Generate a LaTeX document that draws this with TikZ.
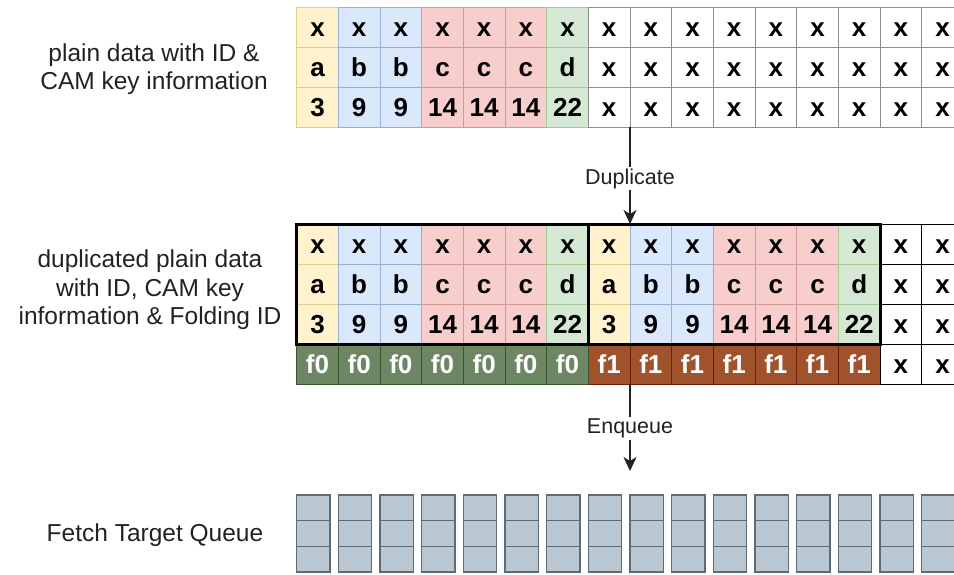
\documentclass[tikz,border=0pt]{standalone}
\usepackage{fontspec}
\setmainfont{Liberation Sans}
\usetikzlibrary{arrows.meta}

% fills and strokes of the cell groups
\definecolor{yelF}{HTML}{FFF2CC}\definecolor{yelD}{HTML}{D6B656}
\definecolor{bluF}{HTML}{DAE8FC}\definecolor{bluD}{HTML}{6C8EBF}
\definecolor{redF}{HTML}{F8CECC}\definecolor{redD}{HTML}{B85450}
\definecolor{grnF}{HTML}{D5E8D4}\definecolor{grnD}{HTML}{82B366}
\definecolor{fzF}{HTML}{6D8764}\definecolor{fzD}{HTML}{3A5431}
\definecolor{foF}{HTML}{A0522D}\definecolor{foD}{HTML}{6D1F00}
\definecolor{qF}{HTML}{BAC8D3}\definecolor{qD}{HTML}{5E6A74}
\definecolor{ink}{HTML}{222222}

\begin{document}
\begin{tikzpicture}[x=1pt,y=-1pt,
  cell/.style={draw, minimum width=41.67pt, minimum height=40pt, inner sep=0pt,
    outer sep=0pt, line width=0.8pt, text=black,
    font=\fontsize{26}{30}\selectfont\bfseries, text height=18.6pt, text depth=0pt},
  kyel/.style={fill=yelF, draw=yelD!70!white},
  kblu/.style={fill=bluF, draw=bluD!70!white},
  kred/.style={fill=redF, draw=redD!60!white},
  kgrn/.style={fill=grnF, draw=grnD!70!white},
  kwht/.style={fill=white, draw=black!45},
  kwhb/.style={fill=white, draw=black},
  kfz/.style={fill=fzF, draw=fzD, text=white},
  kfo/.style={fill=foF, draw=foD, text=white},
  qcell/.style={draw=qD, fill=qF, line width=1.4pt, minimum width=33.3pt,
    minimum height=25.67pt, inner sep=0pt, outer sep=0pt},
  lbl/.style={text=ink, align=center, font=\fontsize{24.5}{28.5}\selectfont},
  albl/.style={text=ink, fill=white, inner sep=1.5pt, font=\fontsize{21.5}{24}\selectfont},
  flow/.style={draw=ink, line width=1.8pt, -{Stealth[length=14pt, width=13pt, inset=4pt]}},
  frame/.style={draw=black, line width=3pt}]

\useasboundingbox (0,0) rectangle (954,574);

% left-hand captions
\node[lbl] (cap1) at (154,69) {plain data with ID \&\\CAM key information};
\node[lbl] (cap2) at (150,290) {duplicated plain data\\with ID, CAM key\\information \& Folding ID};
\node[lbl] (cap3) at (155,535) {Fetch Target Queue};

% coloured key columns: top grid and both copies in the middle grid
\foreach \c/\s/\a/\n in {0/kyel/a/3, 1/kblu/b/9, 2/kblu/b/9, 3/kred/c/14,
                         4/kred/c/14, 5/kred/c/14, 6/kgrn/d/22} {
  \pgfmathtruncatemacro\cc{\c+7}
  \node[cell,\s] (t-0-\c) at ({317.5+\c*41.67},27.3) {x};
  \node[cell,\s] (t-1-\c) at ({317.5+\c*41.67},67.3) {\a};
  \node[cell,\s] (t-2-\c) at ({317.5+\c*41.67},107.3) {\n};
  \foreach \k/\f/\fs in {\c/f0/kfz, \cc/f1/kfo} {
    \node[cell,\s] (m-0-\k) at ({317.5+\k*41.67},244) {x};
    \node[cell,\s] (m-1-\k) at ({317.5+\k*41.67},284) {\a};
    \node[cell,\s] (m-2-\k) at ({317.5+\k*41.67},324) {\n};
    \node[cell,\fs] (m-3-\k) at ({317.5+\k*41.67},364) {\f};
  }
}

% plain columns of the top grid
\foreach \c in {7,...,15} {
  \foreach \r in {0,1,2} {
    \node[cell,kwht] (t-\r-\c) at ({317.5+\c*41.67},{27.3+\r*40}) {x};
  }
}

% plain columns of the middle grid
\foreach \c in {14,15} {
  \foreach \r in {0,...,3} {
    \node[cell,kwhb] (m-\r-\c) at ({317.5+\c*41.67},{244+\r*40}) {x};
  }
}

% the two copies framed
\draw[frame] (m-0-0.north west) rectangle (m-2-6.south east);
\draw[frame] (m-0-7.north west) rectangle (m-2-13.south east);

% fetch target queue
\foreach \k in {0,...,15} {
  \foreach \r in {0,1,2} {
    \node[qcell] (q-\r-\k) at ({313.35+\k*41.67},{507.8+\r*25.67}) {};
  }
}

% connectors
\coordinate (enq) at (630,471);
\draw[flow] (t-2-7.south east) -- node[albl, pos=0.53] (dup) {Duplicate} (m-0-7.north east);
\draw[flow] (m-3-7.south east) -- node[albl, pos=0.51] (enqlbl) {Enqueue} (enq);

\end{tikzpicture}
\end{document}
